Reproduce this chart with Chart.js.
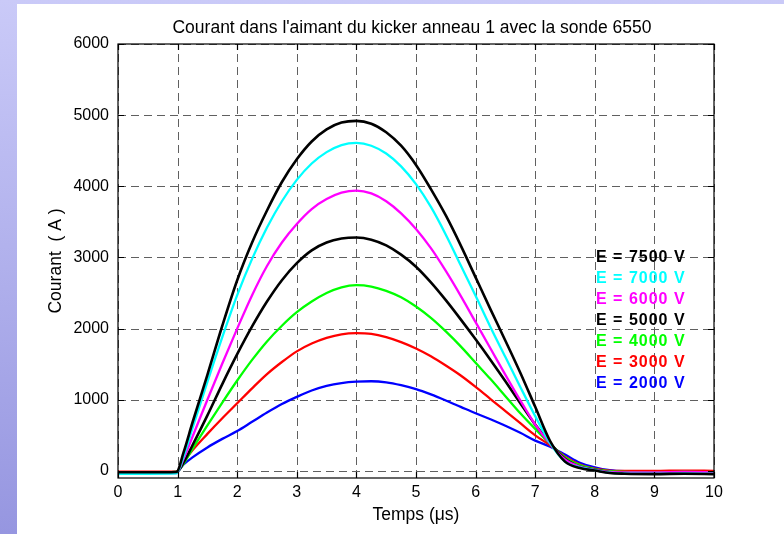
<!DOCTYPE html>
<html>
<head>
<meta charset="utf-8">
<script src="https://cdn.jsdelivr.net/npm/chart.js@4.4.1/dist/chart.umd.min.js"></script>
<style>
  html, body { margin: 0; padding: 0; }
  body { width: 784px; height: 534px; overflow: hidden; background: linear-gradient(to bottom, #cacaf8, #9696e0); position: relative; }
  #box { position: absolute; left: 17px; top: 4px; width: 767px; height: 530px; background: #fff; }
</style>
</head>
<body>
<div id="box"><canvas id="kicker" width="767" height="530"></canvas></div>
<script>
var titre = "Courant dans l'aimant du kicker anneau 1 avec la sonde 6550";

// temps en microsecondes
var temps = [0, 0.5, 0.98, 1.1, 1.25, 1.5, 1.75, 2, 2.25, 2.5, 2.75, 3, 3.25, 3.5, 3.75, 4, 4.25, 4.5, 4.75, 5,
  5.25, 5.5, 5.75, 6, 6.25, 6.5, 6.75, 7, 7.25, 7.5, 7.75, 8, 8.25, 8.5, 9, 9.5, 10];

// courant (A), une liste par tension
var e7500 = [-20, -20, -15, 260, 680, 1350, 2040, 2680, 3210, 3660, 4060, 4380, 4630, 4800, 4895, 4920, 4880, 4760, 4570, 4300,
  3960, 3590, 3170, 2720, 2270, 1830, 1380, 900, 420, 130, 40, 5, -30, -40, -45, -40, -45];
var e7000 = [-40, -40, -35, 200, 600, 1250, 1880, 2470, 2980, 3420, 3790, 4090, 4320, 4480, 4580, 4610, 4570, 4460, 4280, 4030,
  3710, 3320, 2890, 2460, 2020, 1600, 1180, 770, 390, 130, 50, 10, -25, -35, -40, -35, -40];
var e6000 = [-30, -30, -30, 170, 480, 1000, 1510, 2000, 2470, 2880, 3210, 3470, 3680, 3820, 3910, 3940, 3900, 3790, 3620, 3400,
  3130, 2810, 2460, 2090, 1720, 1350, 990, 650, 380, 160, 60, 15, -15, -20, -20, -15, -20];
var e5000 = [-25, -25, -20, 120, 360, 780, 1220, 1640, 2030, 2380, 2680, 2920, 3100, 3210, 3265, 3280, 3250, 3170, 3040, 2870,
  2650, 2400, 2130, 1850, 1560, 1260, 950, 650, 390, 170, 60, 15, -20, -30, -35, -30, -35];
var e4000 = [-20, -20, -15, 100, 310, 640, 960, 1270, 1560, 1820, 2040, 2230, 2380, 2500, 2580, 2610, 2590, 2530, 2440, 2310,
  2150, 1960, 1750, 1520, 1290, 1050, 810, 590, 380, 190, 80, 25, -5, -15, -20, -15, -20];
var e3000 = [-10, -10, -10, 130, 290, 520, 740, 950, 1160, 1360, 1530, 1680, 1790, 1870, 1920, 1935, 1925, 1880, 1810, 1720,
  1610, 1480, 1340, 1180, 1010, 840, 670, 500, 360, 200, 90, 30, 5, 0, 0, 5, 0];
var e2000 = [-20, -20, -15, 90, 190, 330, 450, 560, 690, 820, 940, 1040, 1130, 1195, 1235, 1255, 1260, 1245, 1205, 1150,
  1075, 990, 900, 810, 725, 635, 535, 425, 340, 230, 115, 50, 10, -5, -10, -10, -10];

var labels = ["E = 7500 V", "E = 7000 V", "E = 6000 V", "E = 5000 V", "E = 4000 V", "E = 3000 V", "E = 2000 V"];
var series = [e7500, e7000, e6000, e5000, e4000, e3000, e2000];
var couleurs = ["#000000", "#00ffff", "#ff00ff", "#000000", "#00ff00", "#ff0000", "#0000ff"];

var xTicks = [0, 1, 2, 3, 4, 5, 6, 7, 8, 9, 10];
var yTicks = [0, 1000, 2000, 3000, 4000, 5000, 6000];

function toPoints(vals) {
  var pts = [];
  for (let i = 0; i < temps.length; i++) {
    pts.push({x: temps[i], y: vals[i]});
  }
  return pts;
}

var datasets = [];
for (let i = 0; i < series.length; i++) {
  datasets.push({
    label: labels[i],
    data: toPoints(series[i]),
    borderColor: couleurs[i],
    borderWidth: couleurs[i] == "#000000" ? 2.6 : 2.3,
    pointRadius: 0,
    fill: false,
    cubicInterpolationMode: 'monotone'
  });
}

const FONT = "'Liberation Sans', Arial, Helvetica, sans-serif";

// grille en tirets, cadre, titre et legende
const grille = {
  id: 'grille',
  beforeDatasetsDraw(chart) {
    const {ctx, chartArea: a, scales: {x, y}} = chart;
    ctx.save();
    ctx.strokeStyle = '#606060';
    ctx.lineWidth = 1;
    ctx.setLineDash([8, 5]);
    xTicks.forEach(function (v) {
      const px = Math.round(x.getPixelForValue(v)) + 0.5;
      ctx.beginPath(); ctx.moveTo(px, a.bottom); ctx.lineTo(px, a.top); ctx.stroke();
    });
    yTicks.forEach(function (v) {
      const py = Math.round(y.getPixelForValue(v)) + 0.5;
      ctx.beginPath(); ctx.moveTo(a.left, py); ctx.lineTo(a.right, py); ctx.stroke();
    });
    ctx.restore();
  },
  afterDatasetsDraw(chart) {
    const {ctx, chartArea: a, scales: {x, y}} = chart;
    ctx.save();
    ctx.strokeStyle = '#000';
    ctx.lineWidth = 1.2;
    ctx.strokeRect(a.left, a.top, a.right - a.left, a.bottom - a.top);
    ctx.beginPath();
    xTicks.forEach(function (v) {
      const px = Math.round(x.getPixelForValue(v)) + 0.5;
      ctx.moveTo(px, a.bottom); ctx.lineTo(px, a.bottom - 6);
      ctx.moveTo(px, a.top); ctx.lineTo(px, a.top + 6);
    });
    yTicks.forEach(function (v) {
      const py = Math.round(y.getPixelForValue(v)) + 0.5;
      ctx.moveTo(a.left, py); ctx.lineTo(a.left + 6, py);
      ctx.moveTo(a.right, py); ctx.lineTo(a.right - 6, py);
    });
    ctx.stroke();

    // titre centre sur la zone du graphe
    ctx.fillStyle = '#000';
    ctx.font = '17.5px ' + FONT;
    ctx.textAlign = 'center';
    ctx.textBaseline = 'middle';
    ctx.fillText(titre, (a.left + a.right) / 2 - 4, a.top - 16);

    // legende texte en couleur
    ctx.font = 'bold 16px ' + FONT;
    ctx.letterSpacing = '1px';
    ctx.textAlign = 'left';
    const lx = x.getPixelForValue(8.02);
    const ly = y.getPixelForValue(3000);
    chart.data.datasets.forEach(function (ds, i) {
      ctx.fillStyle = ds.borderColor;
      ctx.fillText(ds.label, lx, ly + i * 21);
    });
    ctx.restore();
  }
};

const ctx = document.getElementById('kicker');
const chart = new Chart(ctx, {
  type: 'line',
  data: { datasets: datasets },
  options: {
    responsive: false,
    animation: false,
    layout: { padding: { left: 0, right: 70, top: 40, bottom: 0 } },
    plugins: {
      legend: { display: false },
      tooltip: { enabled: false },
      title: { display: false }
    },
    scales: {
      x: {
        type: 'linear',
        min: 0, max: 10,
        afterFit: function (s) { s.height = 56; },
        afterBuildTicks: function (s) { s.ticks = xTicks.map(function (v) { return {value: v}; }); },
        grid: { display: false, drawTicks: false },
        border: { display: false },
        ticks: { color: '#000', padding: 5, maxRotation: 0, font: { family: FONT, size: 16 },
          callback: function (v) { return String(v); } },
        title: { display: true, text: 'Temps (\u03bcs)', color: '#000', font: { family: FONT, size: 17.5 }, padding: { top: 0, bottom: 8 } }
      },
      y: {
        type: 'linear',
        min: -100, max: 6000,
        afterFit: function (s) { s.width = 101; },
        afterBuildTicks: function (s) { s.ticks = yTicks.map(function (v) { return {value: v}; }); },
        grid: { display: false, drawTicks: false },
        border: { display: false },
        ticks: { color: '#000', padding: 9, font: { family: FONT, size: 16 },
          callback: function (v) { return String(v); } },
        title: { display: true, text: 'Courant  ( A )', color: '#000', font: { family: FONT, size: 17.5 }, padding: { top: 28.5, bottom: 0 } }
      }
    }
  },
  plugins: [grille]
});
</script>
</body>
</html>
